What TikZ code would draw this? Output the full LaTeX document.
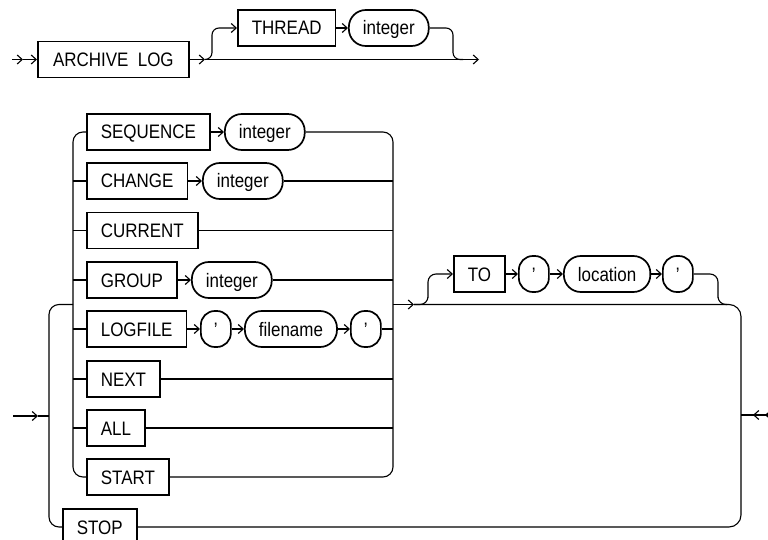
\documentclass[tikz,border=0pt]{standalone}
\usepackage{fontspec}
\setmainfont{Liberation Sans}[FakeStretch=0.87]
\usepackage{tikz}
\usetikzlibrary{arrows.meta,calc}

\begin{document}
\begin{tikzpicture}[x=1pt,y=-1pt,line width=1.1pt,
  kw/.style={draw,line width=1.7pt,anchor=west,minimum height=36pt,inner xsep=14pt,
    text height=14pt,text depth=0pt,font=\fontsize{19.5}{22}\selectfont},
  var/.style={kw,rounded corners=17pt},
  tick/.style={kw,rounded corners=14pt,minimum width=30pt,inner xsep=0pt},
  arr/.style={-{Straight Barb[length=5pt,width=9pt]}}]
\path[use as bounding box,fill=white] (0,0) rectangle (768,540);
% ARCHIVE LOG [THREAD integer]
\node[kw,minimum width=151pt] (archive) at (37,59.5) {ARCHIVE\ \ LOG};
\node[kw] (thread) at (237,28) {THREAD};
\node[var] (threadint) at (348,28) {integer};
\coordinate (s0) at (12,59.5); \coordinate (s1) at (23,59.5);
\coordinate (tb) at (205,59.5); \coordinate (te) at (479,59.5);
\draw[arr] (s0) -- (s1); \draw[arr] (s1) -- (archive.west);
\draw[arr] (archive.east) -- (tb); \draw[arr] (tb) -- (te);
\draw[arr,rounded corners=7pt] (tb) -| (212,44) |- (thread.west);
\draw[arr] (thread.east) -- (threadint.west);
\draw[rounded corners=7pt] (threadint.east) -| (453,44) |- (463,59.5);
% alternatives
\foreach \n/\t/\y in {seq/SEQUENCE/132,chg/CHANGE/181,cur/CURRENT/230.5,grp/GROUP/280,
  lgf/LOGFILE/329,nxt/NEXT/379,all/ALL/428,sta/START/477}
  \node[kw] (\n) at (86,\y) {\t};
\node[var] (seqint) at (224,132) {integer};
\node[var] (chgint) at (202,181) {integer};
\node[var] (grpint) at (191,280) {integer};
\node[tick] (lq1) at (200,329) {’};
\node[var] (lname) at (244,329) {filename};
\node[tick] (lq2) at (350,329) {’};
\foreach \a/\b in {seq/seqint,chg/chgint,grp/grpint,lgf/lq1,lq1/lname,lname/lq2}
  \draw[arr] (\a.east) -- (\b.west);
\coordinate (il) at (73,304.5); \coordinate (ir) at (393,304.5);
\draw[rounded corners=10pt] (seq.west) -| (il) |- (sta.west);
\draw[rounded corners=10pt] (seqint.east) -| (ir) |- (sta.east);
\foreach \a in {chg,cur,grp,lgf,nxt,all} \draw (\a.west -| il) -- (\a.west);
\foreach \b in {chgint,cur,grpint,lq2,nxt,all} \draw (\b.east) -- (\b.east -| ir);
% STOP and outer loop
\node[kw] (stop) at (62,527) {STOP};
\coordinate (ol) at (49,416); \coordinate (in0) at (13,416); \coordinate (in1) at (38,416);
\draw[arr] (in0) -- (in1); \draw (in1) -- (ol);
\draw[rounded corners=10pt] (il) -| (ol) |- (stop.west);
\coordinate (tj) at (414,304.5); \coordinate (or) at (741,415);
\draw[arr] (ir) -- (tj);
\draw[rounded corners=12pt] (tj) -| (or) |- (stop.east);
% TO ' location '
\node[kw] (to) at (453,274) {TO};
\node[tick] (tq1) at (518,274) {’};
\node[var] (tloc) at (563,274) {location};
\node[tick] (tq2) at (662,274) {’};
\foreach \a/\b in {to/tq1,tq1/tloc,tloc/tq2} \draw[arr] (\a.east) -- (\b.west);
\draw[arr,rounded corners=8pt] (tj) -| (428,290) |- (to.west);
\draw[rounded corners=8pt] (tq2.east) -| (718,290) |- (727,304.5);
% exit
\coordinate (ex) at (768,415);
\draw (or) -- (ex); \draw[arr] (ex) -- (753,415); \draw[arr] ($(ex)+(8,0)$) -- (765,415);
\end{tikzpicture}
\end{document}
